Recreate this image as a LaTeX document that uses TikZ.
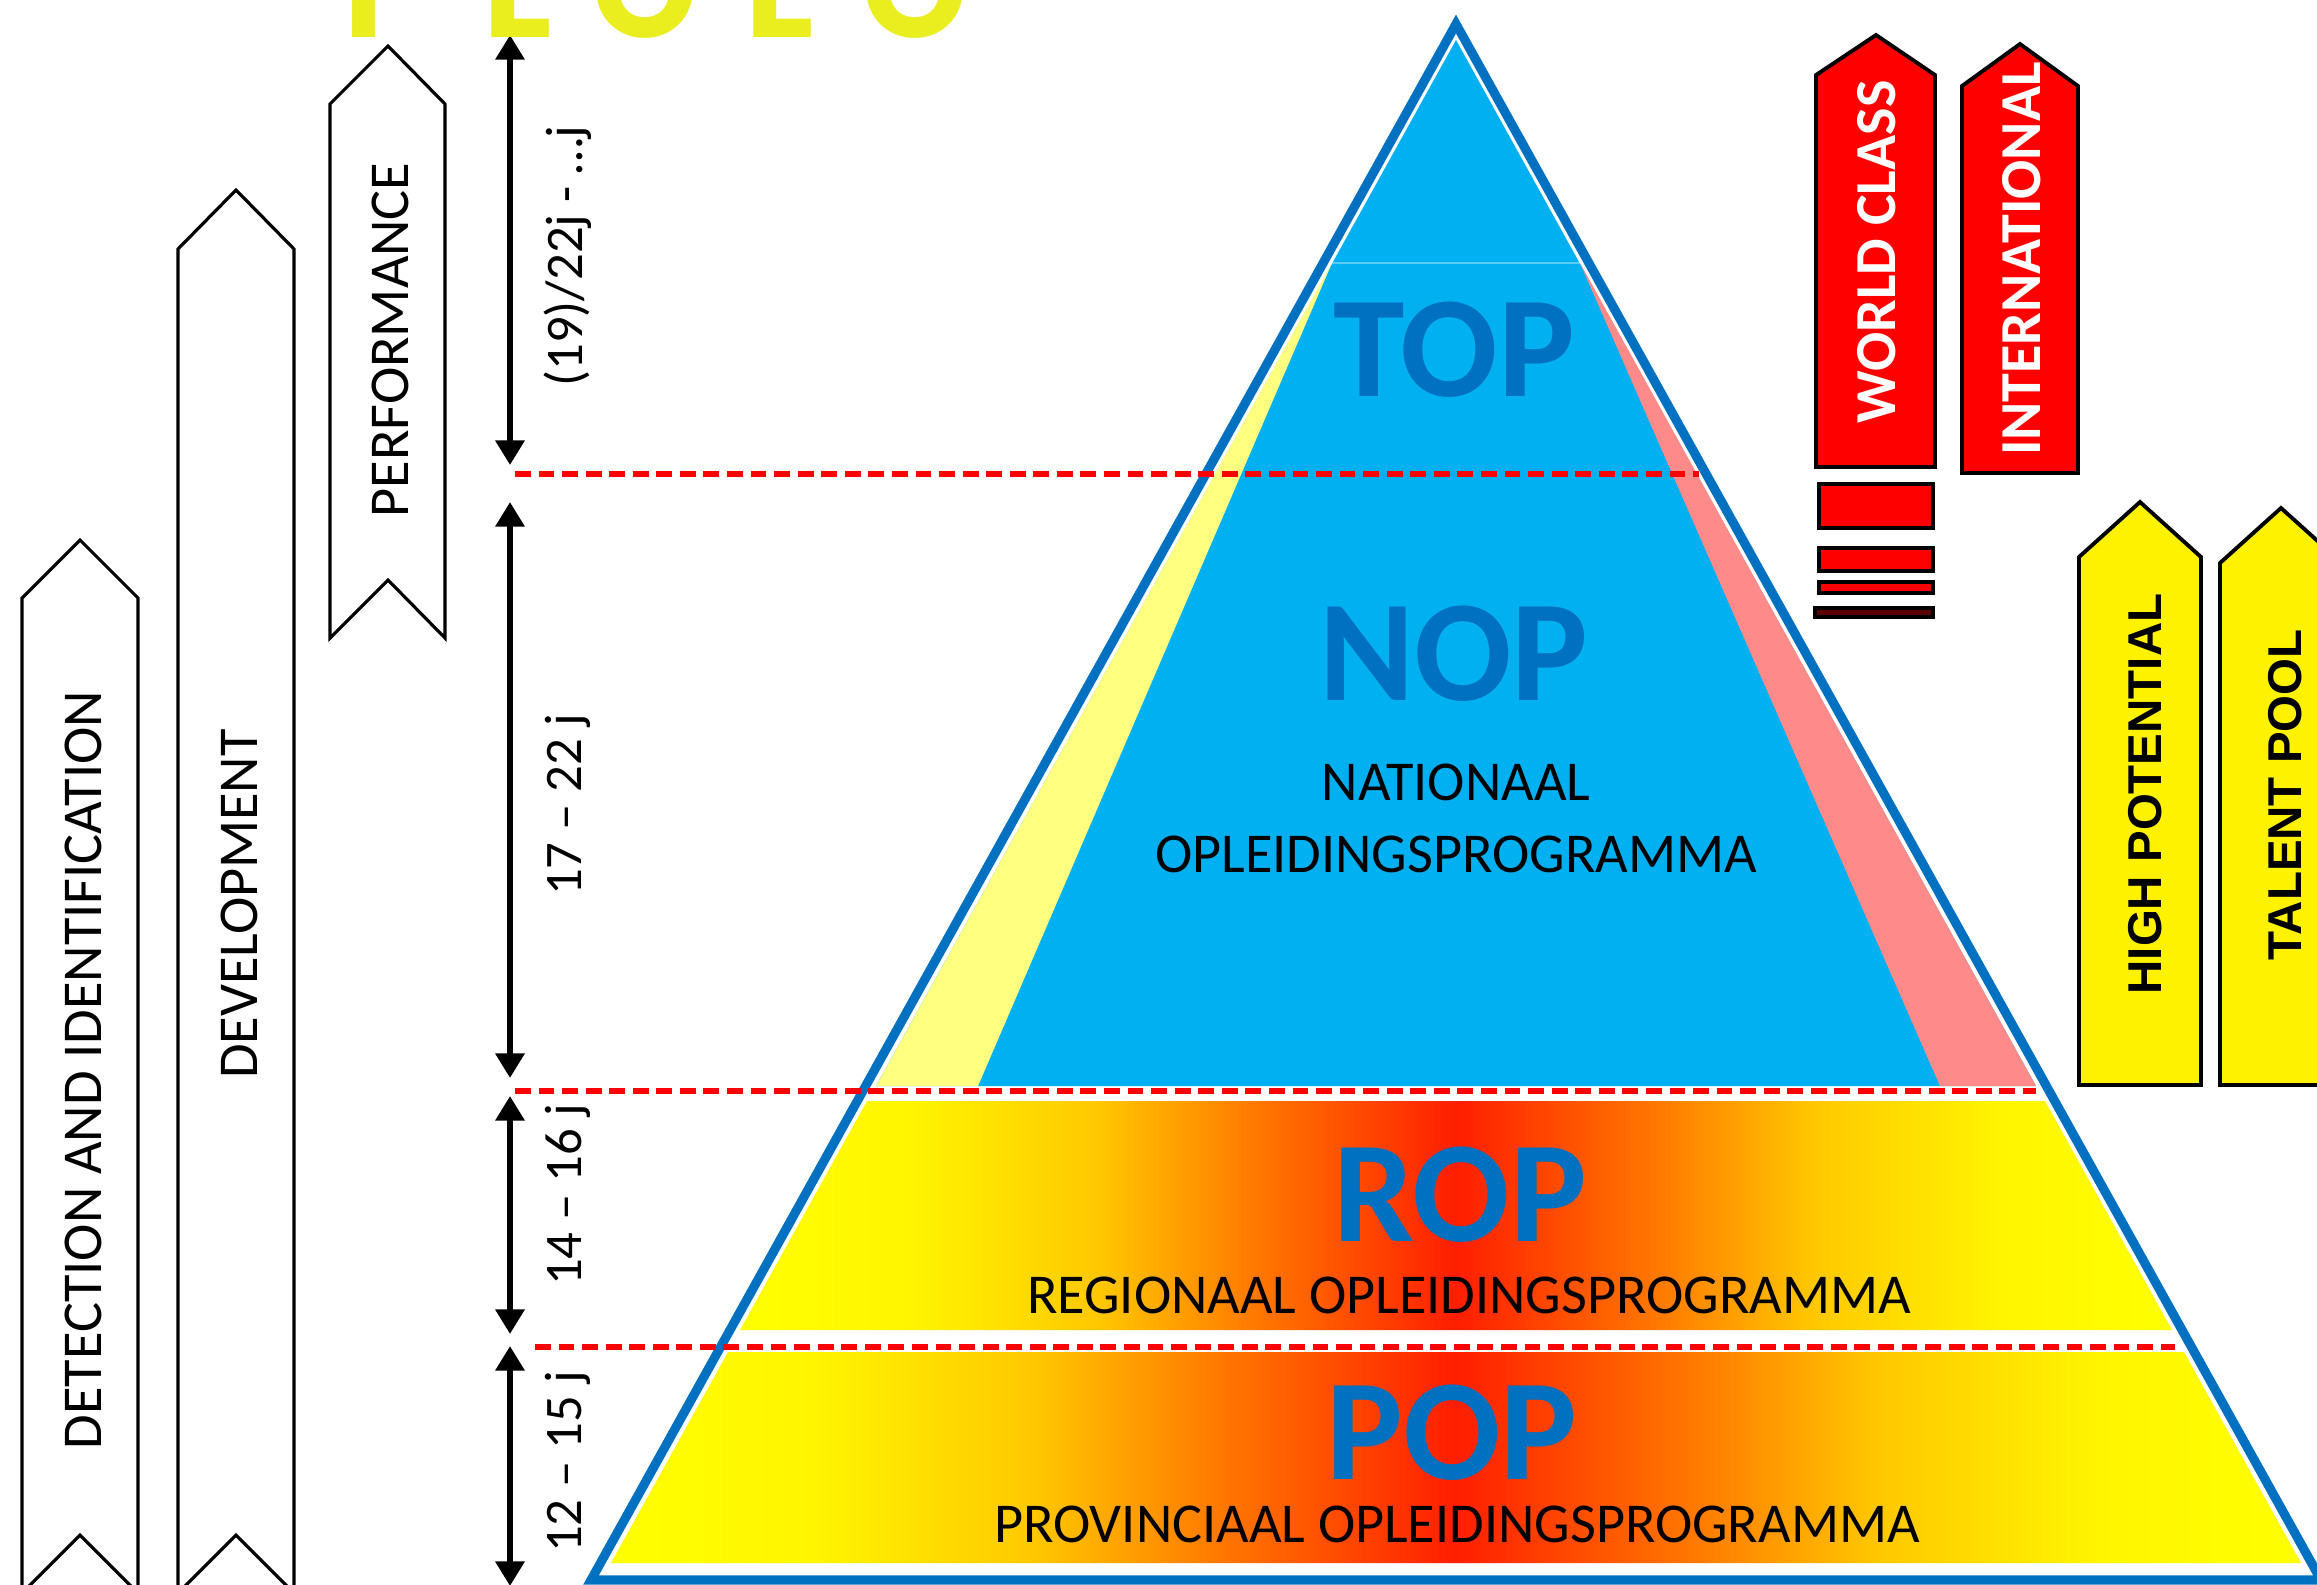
\documentclass[tikz,border=0pt]{standalone}
\usepackage{fontspec}
\setmainfont{Carlito}
\newfontfamily\arialfont{Liberation Sans}
\newfontfamily\logofont{Poppins}
\usetikzlibrary{arrows.meta}

\definecolor{pyrblue}{RGB}{0,112,192}
\definecolor{skyfill}{RGB}{0,176,240}
\definecolor{paleyellow}{RGB}{255,255,128}
\definecolor{palered}{RGB}{255,138,138}
\definecolor{logoyellow}{RGB}{234,238,30}
\definecolor{darkbar}{RGB}{90,0,0}
\definecolor{heatA}{RGB}{255,245,0}
\definecolor{heatB}{RGB}{255,200,0}
\definecolor{heatC}{RGB}{255,120,0}
\definecolor{heatD}{RGB}{255,30,0}

\pgfdeclarehorizontalshading{heat}{100bp}{color(0bp)=(yellow); color(25bp)=(yellow);
  color(31bp)=(heatA); color(37.5bp)=(heatB); color(43bp)=(heatC); color(50bp)=(heatD);
  color(57bp)=(heatC); color(62.5bp)=(heatB); color(69bp)=(heatA); color(75bp)=(yellow);
  color(100bp)=(yellow)}

\begin{document}
\begin{tikzpicture}[x=0.01cm, y=-0.01cm,
    chevron/.style={draw=black, line width=0.9pt, fill=white},
    redtag/.style={draw=black, line width=1.1pt, fill=red},
    yellowtag/.style={draw=black, line width=1.1pt, fill=yellow},
    agearrow/.style={{Triangle[length=7pt,width=8pt]}-{Triangle[length=7pt,width=8pt]}, line width=1.7pt},
    cutline/.style={red, line width=1.5pt, dash pattern=on 4.5pt off 2.2pt},
    bandlabel/.style={rotate=90, font=\fontsize{16}{19}\selectfont},
    agelabel/.style={rotate=90, font=\fontsize{15}{18}\selectfont},
    tagtext/.style={rotate=90, text=white, font=\bfseries\fontsize{16.5}{19}\selectfont},
    pooltext/.style={rotate=90, font=\arialfont\bfseries\fontsize{13.5}{16}\selectfont},
    level/.style={inner sep=0pt, text=pyrblue, font=\bfseries\fontsize{41}{45}\selectfont},
    programme/.style={inner sep=0pt, align=center, font=\fontsize{16}{20.5}\selectfont},
    logo/.style={anchor=base, inner sep=0pt, text=logoyellow, font=\logofont\bfseries\fontsize{38}{40}\selectfont}]

    \fill[white] (0,0) rectangle (2317,1584);
    \useasboundingbox (0,0) rectangle (2317,1584);
    \clip (0,0) rectangle (2317,1584);

    % pyramid
    \fill[skyfill] (1456,40) -- (2036,1086) -- (876,1086) -- cycle;
    \fill[paleyellow] (1332,263) -- (978,1086) -- (876,1086) -- cycle;
    \fill[palered] (1580,263) -- (1940,1086) -- (2036,1086) -- cycle;
    \draw[white, opacity=0.35, line width=0.6pt] (1332,263) -- (1580,263);
    \shade[shading=heat] (867,1101) -- (2045,1101) -- (2172,1330) -- (740,1330) -- cycle;
    \shade[shading=heat] (728,1352) -- (2184,1352) -- (2301,1563) -- (611,1563) -- cycle;
    \draw[pyrblue, line width=2.6pt] (1456,24) -- (2321,1580) -- (591,1580) -- cycle;

    \node[level] (toplevel) at (1454,350) {TOP};
    \node[level] (noplevel) at (1454,654) {NOP};
    \node[programme] (nopname) at (1456,818) {NATIONAAL\\OPLEIDINGSPROGRAMMA};
    \node[level] (roplevel) at (1460,1195) {ROP};
    \node[programme] (ropname) at (1469,1295) {REGIONAAL OPLEIDINGSPROGRAMMA};
    \node[level] (poplevel) at (1452,1433) {POP};
    \node[programme] (popname) at (1457,1524) {PROVINCIAAL OPLEIDINGSPROGRAMMA};

    \draw[cutline] (515,474) -- (1699,474);
    \draw[cutline] (515,1091) -- (2036,1091);
    \draw[cutline] (535,1347) -- (2175,1347);

    % phases
    \draw[chevron] (330,104) -- (388,46) -- (445,104) -- (445,638) -- (388,580) -- (330,638) -- cycle;
    \draw[chevron] (178,249) -- (236,190) -- (294,249) -- (294,1593) -- (236,1535) -- (178,1593) -- cycle;
    \draw[chevron] (22,598) -- (80,540) -- (138,598) -- (138,1593) -- (80,1535) -- (22,1593) -- cycle;
    \node[bandlabel] (perf) at (390,340) {PERFORMANCE};
    \node[bandlabel] (devel) at (239,904) {DEVELOPMENT};
    \node[bandlabel] (detect) at (83,1070) {DETECTION AND IDENTIFICATION};

    % ages
    \coordinate (a0) at (510,35);   \coordinate (a1) at (510,465);
    \coordinate (a2) at (510,502);  \coordinate (a3) at (510,1078);
    \coordinate (a4) at (510,1096); \coordinate (a5) at (510,1334);
    \coordinate (a6) at (510,1346); \coordinate (a7) at (510,1586);
    \foreach \s/\e in {a0/a1, a2/a3, a4/a5, a6/a7}
      \draw[agearrow] (\s) -- (\e);
    \node[agelabel] (age1) at (568,256) {(19)/22j - …j};
    \node[agelabel] (age2) at (568,805) {17 – 22 j};
    \node[agelabel] (age3) at (568,1195) {14 – 16 j};
    \node[agelabel] (age4) at (568,1462) {12 – 15 j};

    % levels on the right
    \draw[redtag] (1816,75) -- (1876,35) -- (1935,75) -- (1935,467) -- (1816,467) -- cycle;
    \draw[redtag] (1962,86) -- (2020,44) -- (2078,86) -- (2078,473) -- (1962,473) -- cycle;
    \node[tagtext] (world) at (1877,252) {WORLD CLASS};
    \node[tagtext] (intl) at (2022,259) {INTERNATIONAL};
    \foreach \t/\b in {484/528, 548/571, 582/593}
      \draw[redtag] (1819,\t) rectangle (1933,\b);
    \draw[draw=black, line width=1.1pt, fill=darkbar] (1815,608) rectangle (1933,617);

    \draw[yellowtag] (2079,557) -- (2140,502) -- (2201,557) -- (2201,1085) -- (2079,1085) -- cycle;
    \draw[yellowtag] (2220,563) -- (2281,508) -- (2342,563) -- (2342,1085) -- (2220,1085) -- cycle;
    \node[pooltext] (highpot) at (2145,794) {HIGH POTENTIAL};
    \node[pooltext] (talent) at (2285,795) {TALENT POOL};

    \foreach \ch/\xx in {T/364, E/520, O/645, E/782, O/915}
      \node[logo] (logo\xx) at (\xx,37) {\ch};
\end{tikzpicture}
\end{document}
